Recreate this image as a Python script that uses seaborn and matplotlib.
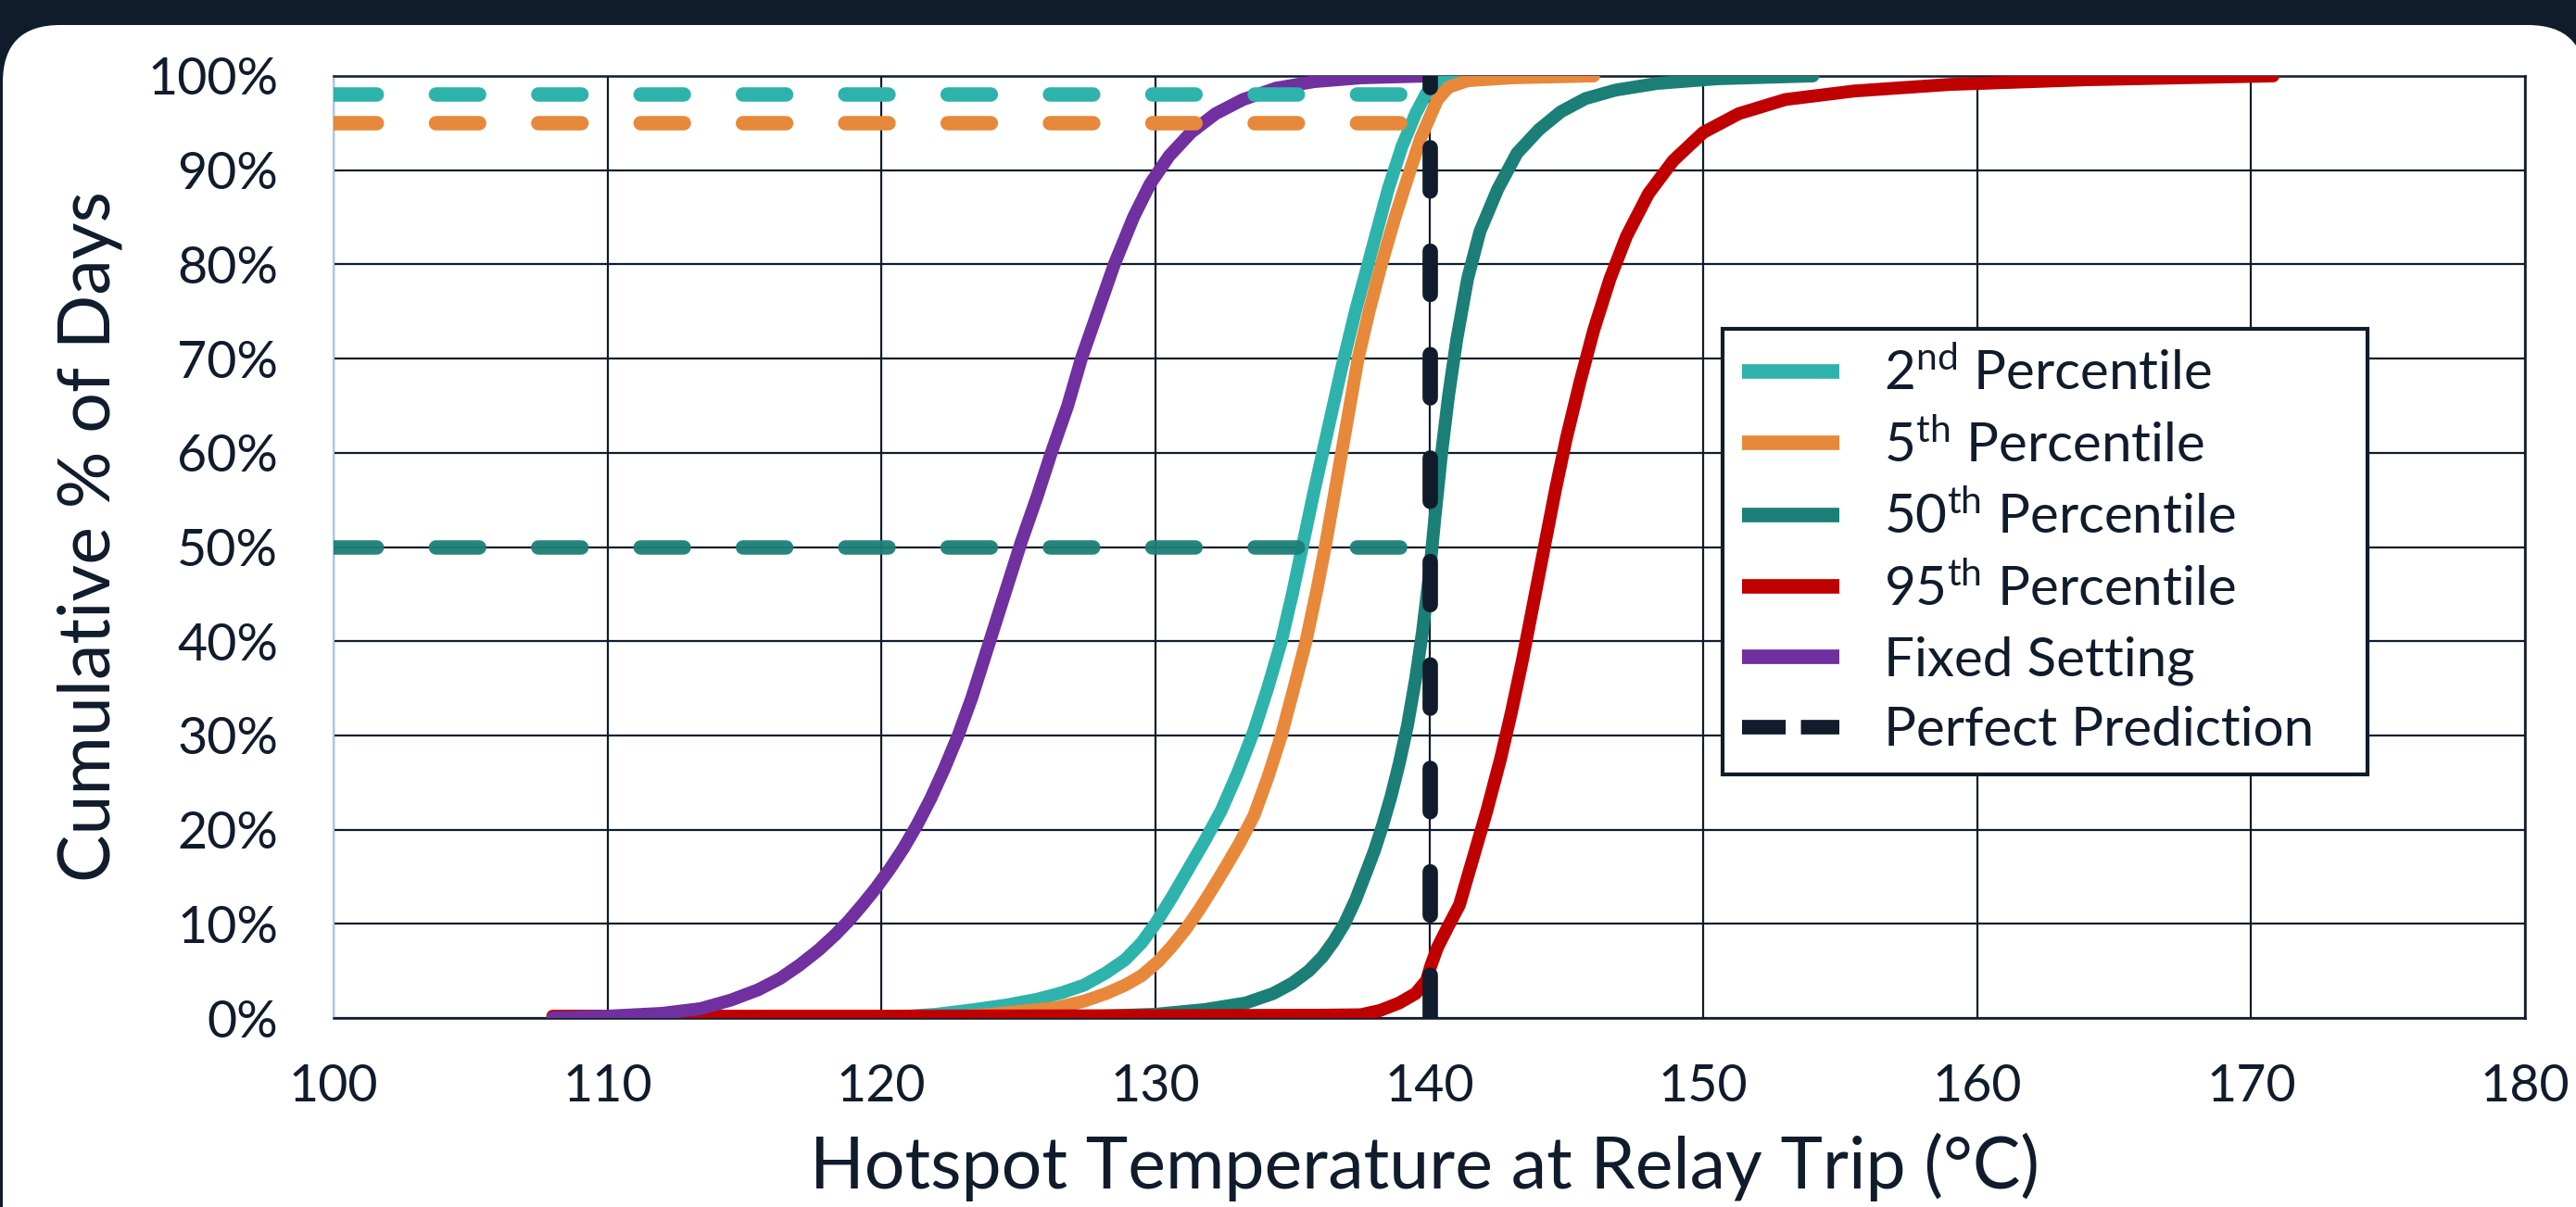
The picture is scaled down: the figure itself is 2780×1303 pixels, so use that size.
import matplotlib
matplotlib.use("Agg")
import matplotlib.pyplot as plt
from matplotlib.patches import FancyBboxPatch
from matplotlib.lines import Line2D
import seaborn as sns
import pandas as pd

# ---------------- data ----------------
p2_x = [120, 122, 123.4, 124.6, 125.7, 126.6, 127.4, 128.2, 128.9, 129.5, 130.0, 130.6, 131.2, 131.8,
        132.4, 133.0, 133.6, 134.1, 134.6, 135.0, 135.4, 135.8, 136.3, 136.8, 137.3, 137.9, 138.5,
        139.0, 139.5, 139.9, 140.3, 140.8, 141.5]
p2_y = [0, 0.4, 0.9, 1.4, 2.0, 2.7, 3.5, 4.8, 6.2, 8.0, 10, 12.8, 15.8, 18.8,
        22, 26, 30.5, 35, 40, 45, 50.5, 56, 62.5, 69, 75, 81.5, 88,
        92.5, 96, 98.2, 99.3, 99.8, 100]

p5_x = [122, 124, 126.4, 127.4, 128.2, 128.9, 129.5, 130.1, 130.6, 131.1, 131.6, 132.1, 132.6, 133.1,
        133.6, 134.1, 134.6, 135.1, 135.5, 135.9, 136.2, 136.5, 136.8, 137.1, 137.4, 137.8, 138.25,
        138.75, 139.3, 139.7, 140.0, 140.3, 140.7, 141.4, 143, 146]
p5_y = [0, 0.4, 1.1, 1.8, 2.6, 3.5, 4.5, 6.0, 7.6, 9.4, 11.5, 13.8, 16.2, 18.7,
        21.5, 25.5, 30, 35.5, 40, 45.5, 50, 55, 60, 65, 70, 75, 80,
        85, 90, 93.5, 95.5, 97.5, 98.8, 99.5, 99.8, 100]

p50_x = [124, 128, 130, 131.8, 133.3, 134.3, 135.0, 135.6, 136.1, 136.5, 136.9, 137.3, 137.7, 138.0,
         138.3, 138.6, 138.9, 139.2, 139.5, 139.75, 140.0, 140.2, 140.45, 140.7, 141.0, 141.4, 141.85,
         142.5, 143.2, 144.0, 144.8, 145.7, 146.8, 148.3, 150.5, 154]
p50_y = [0, 0.2, 0.4, 0.9, 1.6, 2.6, 3.7, 5.0, 6.5, 8.1, 10, 12.5, 15.5, 17.8,
         20.5, 23.5, 27, 31, 36, 41, 47, 53, 60, 66, 72, 78.5, 83.5,
         88, 91.8, 94.3, 96.2, 97.6, 98.5, 99.2, 99.7, 100]

p95_x = [108, 120, 130, 136, 137.5, 138.2, 138.9, 139.5, 139.9, 140.05, 140.3, 140.7, 141.1, 141.6,
         142.1, 142.6, 143.0, 143.4, 143.8, 144.2, 144.6, 145.0, 145.5, 146.0, 146.6, 147.2, 148.0,
         148.9, 150.0, 151.3, 153.0, 155.5, 159.0, 164.0, 170.8]
p95_y = [0.2, 0.2, 0.25, 0.3, 0.35, 0.8, 1.6, 2.6, 4.0, 5.5, 7.5, 9.8, 12, 17,
         22, 27.5, 32.5, 38, 44, 50, 56, 61.5, 67.5, 73, 78.5, 83, 87.5,
         91, 94, 96, 97.5, 98.4, 99.1, 99.6, 100]

fixed_x = [108, 110, 112, 113.4, 114.5, 115.5, 116.3, 117.0, 117.7, 118.3, 118.8, 119.3, 119.8, 120.3,
           120.8, 121.3, 121.8, 122.3, 122.8, 123.3, 123.9, 124.5, 125.1, 125.7, 126.2, 126.8, 127.3,
           127.9, 128.5, 129.2, 129.8, 130.5, 131.3, 132.2, 133.2, 134.4, 135.8, 137.5, 140]
fixed_y = [0, 0.2, 0.5, 1.0, 1.9, 3.0, 4.2, 5.6, 7.2, 8.8, 10.3, 12, 13.8, 15.8,
           18, 20.5, 23.3, 26.5, 30, 34, 39.5, 45, 50.5, 55.5, 60, 65, 70,
           75, 80, 85, 88.5, 91.5, 94, 96, 97.5, 98.7, 99.4, 99.8, 100]

series_names = ["2nd", "5th", "50th", "95th", "Fixed"]
legend_labels = [r"2$^{\mathrm{nd}}$ Percentile", r"5$^{\mathrm{th}}$ Percentile",
                 r"50$^{\mathrm{th}}$ Percentile", r"95$^{\mathrm{th}}$ Percentile",
                 "Fixed Setting", "Perfect Prediction"]

ref_x = [100, 140]          # horizontal reference lines span
ref_levels = [98, 95, 50]   # 2nd, 5th, 50th percentile targets
perfect_x = [140, 140]
perfect_y = [0, 100]

x_ticks = [100, 110, 120, 130, 140, 150, 160, 170, 180]
y_ticks = [0, 10, 20, 30, 40, 50, 60, 70, 80, 90, 100]
x_label = "Hotspot Temperature at Relay Trip (°C)"
y_label = "Cumulative % of Days"

# ---------------- style ----------------
NAVY = "#101c2c"
colors = {"2nd": "#2EB3AC", "5th": "#E8883A", "50th": "#1B7F77",
          "95th": "#C00000", "Fixed": "#7030A0"}

sns.set_theme(style="white")
plt.rcParams["font.family"] = ["Lato", "DejaVu Sans"]
plt.rcParams["mathtext.fontset"] = "custom"
plt.rcParams["mathtext.rm"] = "Lato"
plt.rcParams["mathtext.it"] = "Lato:italic"
plt.rcParams["mathtext.bf"] = "Lato:bold"

W, H = 2780, 1303
fig = plt.figure(figsize=(W / 100, H / 100), dpi=100)
fig.patch.set_facecolor(NAVY)
bg = FancyBboxPatch((3, -120), 2787, H - 27 + 120,
                    boxstyle="round,pad=0,rounding_size=62",
                    transform=None, fc="white", ec="none", zorder=-5)
fig.add_artist(bg)

L, R, T, B = 360, 2725, 82, 1099
ax = fig.add_axes([L / W, 1 - B / H, (R - L) / W, (B - T) / H])
ax.set_facecolor("white")

frames = []
for name, xs, ys in [("2nd", p2_x, p2_y), ("5th", p5_x, p5_y), ("50th", p50_x, p50_y),
                     ("95th", p95_x, p95_y), ("Fixed", fixed_x, fixed_y)]:
    frames.append(pd.DataFrame({"x": xs, "y": ys, "series": name}))
df = pd.concat(frames, ignore_index=True)

lw_curve = 10.0
sns.lineplot(data=df, x="x", y="y", hue="series", hue_order=series_names,
             palette=colors, estimator=None, sort=False, lw=lw_curve,
             legend=False, ax=ax, solid_capstyle="round", solid_joinstyle="round",
             zorder=3)

# horizontal dashed targets
ref_colors = ["2nd", "5th", "50th"]
for lvl, key in zip(ref_levels, ref_colors):
    ref_df = pd.DataFrame({"x": ref_x, "y": [lvl, lvl]})
    sns.lineplot(data=ref_df, x="x", y="y", color=colors[key], lw=11.2,
                 ax=ax, zorder=4, estimator=None)
    ln = ax.lines[-1]
    ln.set_dashes((3.0, 4.1))
    ln.set_dash_capstyle("round")
    if key == "50th":
        ln.set_alpha(0.95)

# perfect prediction
pp_df = pd.DataFrame({"x": perfect_x, "y": perfect_y})
sns.lineplot(data=pp_df, x="x", y="y", color=NAVY, lw=12, ax=ax, zorder=5,
             estimator=None, sort=False)
ln = ax.lines[-1]
ln.set_dashes((2.8, 3.9))
ln.set_dash_capstyle("round")

ax.set_xlim(100, 180)
ax.set_ylim(0, 100)
ax.set_xticks(x_ticks)
ax.set_yticks(y_ticks)
ax.set_yticklabels([f"{v}%" for v in y_ticks])
ax.grid(True, color=NAVY, lw=1.6, zorder=0)
ax.set_axisbelow(True)
ax.tick_params(axis="both", length=0, labelsize=40, colors=NAVY)
ax.tick_params(axis="y", pad=43)
ax.tick_params(axis="x", pad=35)
for s in ["top", "right", "bottom"]:
    ax.spines[s].set_color(NAVY)
    ax.spines[s].set_linewidth(1.8)
ax.spines["left"].set_color("#A9C6E8")
ax.spines["left"].set_linewidth(1.5)

ax.set_xlabel(x_label, fontsize=55.5, color=NAVY)
ax.set_ylabel(y_label, fontsize=55.5, color=NAVY)
ax.xaxis.set_label_coords(0.498, -0.122)
ax.yaxis.set_label_coords(-0.096, 0.511)

handles = [Line2D([0], [0], color=colors[k], lw=11.3, solid_capstyle="butt") for k in series_names]
handles.append(Line2D([0], [0], color=NAVY, lw=11.3, dashes=(3.0, 1.05), dash_capstyle="butt"))
leg = ax.legend(handles, legend_labels, loc="upper left",
                bbox_to_anchor=(0.634, 0.0, 0.294, 0.7316), mode="expand",
                borderaxespad=0, fontsize=42, frameon=True, fancybox=False,
                handlelength=1.8, handletextpad=0.82, borderpad=0.36,
                labelspacing=0.385, labelcolor=NAVY)
leg.get_frame().set_edgecolor(NAVY)
leg.get_frame().set_linewidth(3.0)
leg.get_frame().set_alpha(1)
leg.set_zorder(10)

fig.savefig("out.png", dpi=100, facecolor=fig.get_facecolor())
